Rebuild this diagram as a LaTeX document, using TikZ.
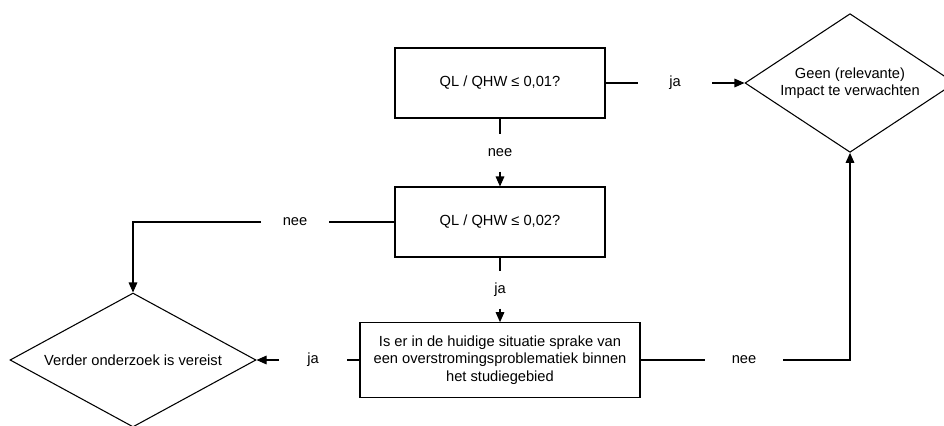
\documentclass[tikz,border=0pt]{standalone}
\usepackage{fontspec}
\setmainfont{Liberation Sans}
\usetikzlibrary{arrows.meta,shapes.geometric}

\begin{document}
\begin{tikzpicture}[x=0.75pt,y=-0.75pt,>={Triangle[length=7.5pt,width=6.5pt]},
 font=\fontsize{11}{13}\selectfont,line width=0.8pt,
 box/.style={draw,minimum width=157.5pt,minimum height=52.5pt,inner sep=2pt,align=center},
 ruit/.style={draw,diamond,inner sep=0pt,shape aspect=1.8,align=center},
 lbl/.style={minimum width=50pt,minimum height=27pt,inner sep=0pt}]
\useasboundingbox (0,0) rectangle (944,425);
% vragen
\node[box] (q1) at (500,83) {QL / QHW ≤ 0,01?};
\node[box] (q2) at (500,222) {QL / QHW ≤ 0,02?};
\node[box,minimum width=210pt,minimum height=56pt] (q3) at (500,360)
  {Is er in de huidige situatie sprake van\\een overstromingsproblematiek binnen\\het studiegebied};
% uitkomsten
\node[ruit,minimum width=157.5pt,minimum height=104pt] (geen) at (850,83)
  {Geen (relevante)\\Impact te verwachten};
\node[ruit,minimum width=184.5pt,minimum height=100.5pt] (verder) at (133,360)
  {Verder onderzoek is vereist};
% labels op de lijnen
\node[lbl,minimum width=55pt] (ja1) at (675,83) {ja};
\node[lbl] (nee1) at (500,153) {nee};
\node[lbl] (nee2) at (295,222) {nee};
\node[lbl] (ja2) at (500,290) {ja};
\node[lbl] (ja3) at (313,360) {ja};
\node[lbl,minimum width=58pt] (nee3) at (744,360) {nee};
% verbindingen
\draw (q1.east) -- (ja1.west);
\draw[->] (ja1.east) -- (geen.west);
\draw (q1.south) -- (nee1.north);
\draw[->] (nee1.south) -- (q2.north);
\draw (q2.west) -- (nee2.east);
\draw[->] (nee2.west) -| (verder.north);
\draw (q2.south) -- (ja2.north);
\draw[->] (ja2.south) -- (q3.north);
\draw (q3.west) -- (ja3.east);
\draw[->] (ja3.west) -- (verder.east);
\draw (q3.east) -- (nee3.west);
\draw[->] (nee3.east) -| (geen.south);
\end{tikzpicture}
\end{document}
